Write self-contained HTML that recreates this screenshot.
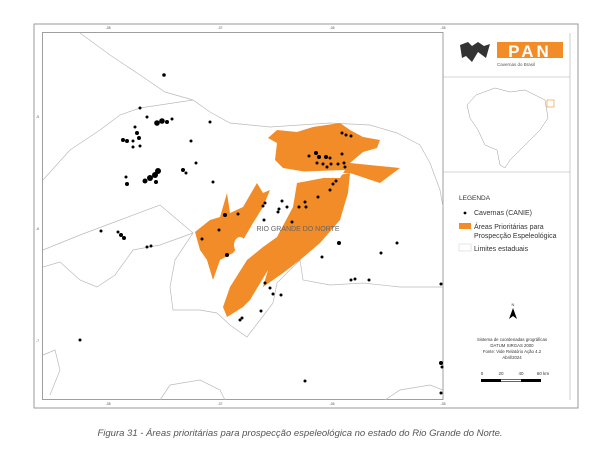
<!DOCTYPE html>
<html><head><meta charset="utf-8"><style>
body{margin:0;background:#fff;width:600px;height:445px;overflow:hidden;font-family:"Liberation Sans",sans-serif}
</style></head><body>
<svg width="600" height="445" xmlns="http://www.w3.org/2000/svg" font-family="Liberation Sans, sans-serif">
<rect x="34" y="24" width="544" height="384" fill="none" stroke="#999" stroke-width="1"/>
<rect x="42.5" y="32.5" width="400.5" height="367" fill="#fff" stroke="#888" stroke-width="0.8"/>
<g fill="#555" font-size="3.5">
<text x="108" y="29" text-anchor="middle">-38</text><text x="220" y="29" text-anchor="middle">-37</text><text x="332" y="29" text-anchor="middle">-36</text><text x="443" y="29" text-anchor="middle">-35</text>
<text x="108" y="405" text-anchor="middle">-38</text><text x="220" y="405" text-anchor="middle">-37</text><text x="332" y="405" text-anchor="middle">-36</text><text x="443" y="405" text-anchor="middle">-35</text>
<text x="36" y="118">-5</text><text x="36" y="230">-6</text><text x="36" y="342">-7</text>
</g>
<g fill="none" stroke="#bbb" stroke-width="0.7">
<path d="M80,33 L110,55 L140,75 L165,92 L193,100 L210,112 L230,123 L270,127 L330,123 L370,125 L397,133 L420,145 L430,163 L440,190 L443,207"/>
<path d="M140,108 L193,100"/>
<path d="M43,267 L60,262 L80,280 L97,287 L115,275 L133,250 L160,245 L193,233 L175,260 L170,287 L173,310 L200,310 L217,313 L230,325 L247,337 L260,320 L273,303 L277,283 L300,260 L303,280 L330,285 L363,283 L400,287 L443,287"/>
<path d="M43,180 L70,150 L100,130 L120,115 L140,108"/>
<path d="M43,250 L80,235 L120,220 L160,205 L193,233"/>
<path d="M160,400 L170,385 L200,380 L220,390 L225,400"/>
<path d="M385,400 L400,390 L430,385 L443,390"/>
<path d="M43,355 L55,350 L60,370 L50,395"/>
</g>
<g fill="#f28c28">
<path d="M268,138 L277,130 L297,132 L313,127 L340,123 L350,130 L363,137 L380,140 L377,148 L363,152 L350,163 L400,168 L380,183 L350,173 L313,173 L283,168 L275,160 L277,143Z"/>
<path d="M297,183 L350,173 L348,193 L340,220 L320,243 L300,260 L283,273 L263,287 L243,307 L227,317 L223,307 L230,287 L247,260 L263,247 L277,237 L293,207Z"/>
<path d="M195,232 L210,220 L220,217 L227,193 L230,213 L243,207 L257,183 L263,193 L270,190 L263,207 L253,223 L243,240 L233,253 L220,260 L213,280 L207,260 L200,250Z"/>
</g>
<g fill="#fff"><path d="M290,172 L345,170 L340,178 L295,178Z"/><ellipse cx="240" cy="245" rx="6" ry="8"/><path d="M250,300 L268,270 L262,290Z"/></g>
<text x="298" y="231" font-size="7" fill="#666" text-anchor="middle">RIO GRANDE DO NORTE</text>
<g fill="#000">
<circle cx="164" cy="75" r="1.8"/><circle cx="140" cy="108" r="1.5"/><circle cx="147" cy="117" r="1.5"/>
<circle cx="157" cy="123" r="2.8"/><circle cx="162" cy="121" r="2.8"/><circle cx="167" cy="122" r="2"/><circle cx="172" cy="119" r="1.5"/>
<circle cx="135" cy="127" r="1.5"/><circle cx="137" cy="133" r="2"/><circle cx="139" cy="138" r="2"/><circle cx="123" cy="140" r="2"/><circle cx="127" cy="141" r="2"/><circle cx="133" cy="141" r="1.5"/>
<circle cx="133" cy="147" r="1.5"/><circle cx="140" cy="146" r="1.5"/><circle cx="191" cy="141" r="1.5"/><circle cx="210" cy="122" r="1.5"/>
<circle cx="150" cy="178" r="3"/><circle cx="155" cy="175" r="3"/><circle cx="158" cy="171" r="3"/><circle cx="145" cy="181" r="2.5"/><circle cx="156" cy="182" r="2"/><circle cx="126" cy="177" r="1.5"/><circle cx="127" cy="184" r="2"/>
<circle cx="183" cy="170" r="2"/><circle cx="186" cy="173" r="1.5"/><circle cx="196" cy="163" r="1.5"/><circle cx="213" cy="182" r="1.5"/>
<circle cx="101" cy="231" r="1.5"/><circle cx="118" cy="232" r="1.5"/><circle cx="121" cy="235" r="2"/><circle cx="124" cy="238" r="2"/><circle cx="147" cy="247" r="1.5"/><circle cx="151" cy="246" r="1.5"/>
<circle cx="80" cy="340" r="1.5"/><circle cx="305" cy="381" r="1.5"/><circle cx="441" cy="363" r="2"/><circle cx="442" cy="367" r="1.5"/><circle cx="441" cy="393" r="1.5"/>
<circle cx="225" cy="215" r="2"/><circle cx="238" cy="214" r="1.5"/><circle cx="219" cy="230" r="1.5"/><circle cx="202" cy="239" r="1.5"/><circle cx="227" cy="255" r="2"/>
<circle cx="265" cy="203" r="1.5"/><circle cx="263" cy="206" r="1.5"/><circle cx="282" cy="201" r="1.5"/><circle cx="279" cy="209" r="1.5"/><circle cx="278" cy="212" r="1.5"/><circle cx="287" cy="207" r="1.5"/><circle cx="264" cy="220" r="1.5"/><circle cx="292" cy="222" r="1.5"/>
<circle cx="299" cy="207" r="1.5"/><circle cx="305" cy="202" r="1.5"/><circle cx="306" cy="207" r="1.5"/><circle cx="318" cy="197" r="1.5"/><circle cx="330" cy="190" r="1.5"/><circle cx="333" cy="184" r="1.5"/><circle cx="336" cy="181" r="1.5"/>
<circle cx="342" cy="133" r="1.5"/><circle cx="346" cy="135" r="1.5"/><circle cx="351" cy="136" r="1.5"/>
<circle cx="309" cy="156" r="1.5"/><circle cx="316" cy="153" r="2"/><circle cx="319" cy="157" r="2"/><circle cx="326" cy="157" r="2"/><circle cx="330" cy="158" r="1.5"/><circle cx="342" cy="154" r="1.5"/>
<circle cx="317" cy="163" r="1.5"/><circle cx="323" cy="164" r="1.5"/><circle cx="327" cy="167" r="1.5"/><circle cx="331" cy="164" r="1.5"/><circle cx="338" cy="164" r="1.5"/><circle cx="344" cy="163" r="1.5"/><circle cx="345" cy="167" r="1.5"/>
<circle cx="339" cy="243" r="2"/><circle cx="322" cy="257" r="1.5"/><circle cx="397" cy="243" r="1.5"/><circle cx="381" cy="253" r="1.5"/>
<circle cx="351" cy="280" r="1.5"/><circle cx="355" cy="279" r="1.5"/><circle cx="369" cy="280" r="1.5"/><circle cx="441" cy="284" r="1.5"/>
<circle cx="265" cy="283" r="1.5"/><circle cx="270" cy="288" r="1.5"/><circle cx="273" cy="294" r="1.5"/><circle cx="281" cy="295" r="1.5"/><circle cx="261" cy="311" r="1.5"/><circle cx="240" cy="320" r="1.5"/><circle cx="242" cy="318" r="1.5"/>
</g>
<line x1="443" y1="77" x2="570" y2="77" stroke="#aaa" stroke-width="0.6"/>
<line x1="443" y1="172" x2="570" y2="172" stroke="#aaa" stroke-width="0.6"/>
<line x1="570" y1="33" x2="570" y2="400" stroke="#aaa" stroke-width="0.6"/>
<path d="M460,45 L468,42 L472,46 L478,42 L484,46 L490,44 L486,58 L478,52 L472,62 L466,56 L462,58Z" fill="#333"/>
<rect x="497" y="42" width="66" height="16" fill="#f28c28"/>
<text x="530" y="57" font-size="17" font-weight="bold" fill="#fff" text-anchor="middle" letter-spacing="3">PAN</text>
<text x="497" y="66" font-size="4.5" fill="#555">Cavernas do Brasil</text>
<path d="M476,95 L495,88 L510,92 L525,90 L545,100 L548,118 L540,130 L530,140 L520,150 L510,160 L505,168 L500,165 L497,150 L485,145 L478,130 L470,118 L467,105Z" fill="none" stroke="#999" stroke-width="0.5"/>
<rect x="547" y="100" width="7" height="7" fill="none" stroke="#f28c28" stroke-width="0.6"/>
<text x="459" y="200" font-size="6.5" fill="#333">LEGENDA</text>
<circle cx="465" cy="213" r="1.4" fill="#000"/>
<text x="474" y="215" font-size="7" fill="#333">Cavernas (CANIE)</text>
<rect x="459" y="223" width="12" height="6" fill="#f28c28"/>
<text x="474" y="229" font-size="7" fill="#333">Áreas Prioritárias para</text>
<text x="474" y="238" font-size="7" fill="#333">Prospecção Espeleológica</text>
<rect x="459" y="244" width="12" height="7" fill="none" stroke="#ccc" stroke-width="0.5"/>
<text x="474" y="251" font-size="7" fill="#333">Limites estaduais</text>
<text x="513" y="306" font-size="4" fill="#333" text-anchor="middle">N</text>
<path d="M513,308 L509,319 L513,316 L517,319Z" fill="#000"/>
<g font-size="4.3" fill="#333" text-anchor="middle"><text x="512" y="341">Sistema de coordenadas grográficas</text><text x="512" y="347">DATUM SIRGAS 2000</text><text x="512" y="353">Fonte: Vide Relatório Ação 4.2</text><text x="512" y="359">Abril/2024</text></g>
<g font-size="4.5" fill="#333" text-anchor="middle"><text x="482" y="375">0</text><text x="501" y="375">20</text><text x="521" y="375">40</text><text x="543" y="375">60 km</text></g>
<rect x="481" y="379" width="60" height="3" fill="#000"/><rect x="501" y="379.6" width="20" height="1.8" fill="#fff"/>
<text x="300" y="436" font-size="9.5" font-style="italic" fill="#555" text-anchor="middle">Figura 31 - Áreas prioritárias para prospecção espeleológica no estado do Rio Grande do Norte.</text>
</svg>
</body></html>
